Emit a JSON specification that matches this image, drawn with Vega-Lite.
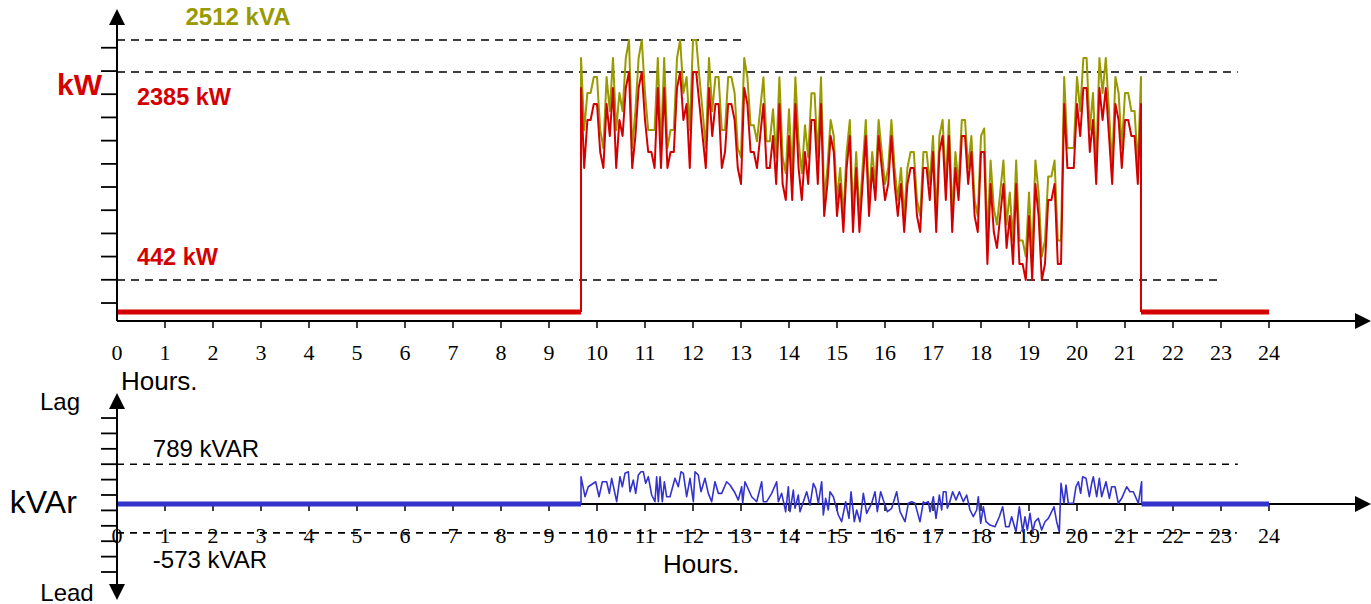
{
"$schema": "https://vega.github.io/schema/vega-lite/v6.json",
"padding": 0,
"background": "white",
"spacing": 67,
"bounds": "flush",
"config": {"view": {"stroke": null}, "font": "Liberation Sans", "axis": {"disable": true}},
"datasets": {
"hours": [{"h":0},{"h":1},{"h":2},{"h":3},{"h":4},{"h":5},{"h":6},{"h":7},{"h":8},{"h":9},{"h":10},{"h":11},{"h":12},{"h":13},{"h":14},{"h":15},{"h":16},{"h":17},{"h":18},{"h":19},{"h":20},{"h":21},{"h":22},{"h":23},{"h":24}],
"top": [
{"i":-1,"t":9.667,"kw":143,"kva":143},
{"i":0,"t":9.667,"kw":2236,"kva":2516},
{"i":1,"t":9.733,"kw":1488,"kva":1843},
{"i":2,"t":9.8,"kw":1937,"kva":2189},
{"i":3,"t":9.867,"kw":1937,"kva":2189},
{"i":4,"t":9.933,"kw":2086,"kva":2338},
{"i":5,"t":10,"kw":2086,"kva":2338},
{"i":6,"t":10.067,"kw":1638,"kva":1843},
{"i":7,"t":10.133,"kw":1488,"kva":1675},
{"i":8,"t":10.2,"kw":2086,"kva":2338},
{"i":9,"t":10.267,"kw":1787,"kva":2020},
{"i":10,"t":10.333,"kw":2236,"kva":2516},
{"i":11,"t":10.4,"kw":1488,"kva":1843},
{"i":12,"t":10.467,"kw":1937,"kva":2189},
{"i":13,"t":10.533,"kw":1787,"kva":2020},
{"i":14,"t":10.6,"kw":2236,"kva":2516},
{"i":15,"t":10.667,"kw":2385,"kva":2684},
{"i":16,"t":10.733,"kw":1488,"kva":1675},
{"i":17,"t":10.8,"kw":1787,"kva":2020},
{"i":18,"t":10.867,"kw":2236,"kva":2516},
{"i":19,"t":10.933,"kw":2385,"kva":2684},
{"i":20,"t":11,"kw":1937,"kva":2189},
{"i":21,"t":11.067,"kw":1638,"kva":1843},
{"i":22,"t":11.133,"kw":1638,"kva":1843},
{"i":23,"t":11.2,"kw":1488,"kva":1843},
{"i":24,"t":11.267,"kw":2236,"kva":2516},
{"i":25,"t":11.333,"kw":1488,"kva":1675},
{"i":26,"t":11.4,"kw":2236,"kva":2516},
{"i":27,"t":11.467,"kw":1488,"kva":1675},
{"i":28,"t":11.533,"kw":1638,"kva":1843},
{"i":29,"t":11.6,"kw":1638,"kva":1843},
{"i":30,"t":11.667,"kw":2236,"kva":2516},
{"i":31,"t":11.733,"kw":2385,"kva":2684},
{"i":32,"t":11.8,"kw":1937,"kva":2189},
{"i":33,"t":11.867,"kw":2086,"kva":2338},
{"i":34,"t":11.933,"kw":1488,"kva":1843},
{"i":35,"t":12,"kw":2385,"kva":2684},
{"i":36,"t":12.067,"kw":2385,"kva":2684},
{"i":37,"t":12.133,"kw":2086,"kva":2338},
{"i":38,"t":12.2,"kw":1787,"kva":2020},
{"i":39,"t":12.267,"kw":1488,"kva":1675},
{"i":40,"t":12.333,"kw":2236,"kva":2516},
{"i":41,"t":12.4,"kw":1787,"kva":2020},
{"i":42,"t":12.467,"kw":2086,"kva":2338},
{"i":43,"t":12.533,"kw":2086,"kva":2338},
{"i":44,"t":12.6,"kw":1488,"kva":1843},
{"i":45,"t":12.667,"kw":1638,"kva":1843},
{"i":46,"t":12.733,"kw":2086,"kva":2338},
{"i":47,"t":12.8,"kw":2086,"kva":2338},
{"i":48,"t":12.867,"kw":1937,"kva":2189},
{"i":49,"t":12.933,"kw":1488,"kva":1675},
{"i":50,"t":13,"kw":1339,"kva":1589},
{"i":51,"t":13.067,"kw":2236,"kva":2516},
{"i":52,"t":13.133,"kw":2086,"kva":2336},
{"i":53,"t":13.2,"kw":1638,"kva":1888},
{"i":54,"t":13.267,"kw":1638,"kva":1888},
{"i":55,"t":13.333,"kw":1488,"kva":1738},
{"i":56,"t":13.4,"kw":1787,"kva":2037},
{"i":57,"t":13.467,"kw":2086,"kva":2336},
{"i":58,"t":13.533,"kw":1488,"kva":1738},
{"i":59,"t":13.6,"kw":1488,"kva":1738},
{"i":60,"t":13.667,"kw":1787,"kva":2037},
{"i":61,"t":13.733,"kw":1339,"kva":1589},
{"i":62,"t":13.8,"kw":2086,"kva":2336},
{"i":63,"t":13.867,"kw":1339,"kva":1589},
{"i":64,"t":13.933,"kw":1189,"kva":1439},
{"i":65,"t":14,"kw":1787,"kva":2037},
{"i":66,"t":14.067,"kw":1189,"kva":1439},
{"i":67,"t":14.133,"kw":2086,"kva":2336},
{"i":68,"t":14.2,"kw":1488,"kva":1738},
{"i":69,"t":14.267,"kw":1189,"kva":1439},
{"i":70,"t":14.333,"kw":1638,"kva":1888},
{"i":71,"t":14.4,"kw":1339,"kva":1589},
{"i":72,"t":14.467,"kw":1937,"kva":2187},
{"i":73,"t":14.533,"kw":1937,"kva":2187},
{"i":74,"t":14.6,"kw":1339,"kva":1589},
{"i":75,"t":14.667,"kw":2086,"kva":2336},
{"i":76,"t":14.733,"kw":1040,"kva":1190},
{"i":77,"t":14.8,"kw":1339,"kva":1489},
{"i":78,"t":14.867,"kw":1787,"kva":1937},
{"i":79,"t":14.933,"kw":1638,"kva":1788},
{"i":80,"t":15,"kw":1040,"kva":1190},
{"i":81,"t":15.067,"kw":1339,"kva":1489},
{"i":82,"t":15.133,"kw":890,"kva":1040},
{"i":83,"t":15.2,"kw":1488,"kva":1638},
{"i":84,"t":15.267,"kw":1787,"kva":1937},
{"i":85,"t":15.333,"kw":890,"kva":1040},
{"i":86,"t":15.4,"kw":1488,"kva":1638},
{"i":87,"t":15.467,"kw":890,"kva":1040},
{"i":88,"t":15.533,"kw":1339,"kva":1489},
{"i":89,"t":15.6,"kw":1787,"kva":1937},
{"i":90,"t":15.667,"kw":1040,"kva":1190},
{"i":91,"t":15.733,"kw":1488,"kva":1638},
{"i":92,"t":15.8,"kw":1189,"kva":1339},
{"i":93,"t":15.867,"kw":1787,"kva":1937},
{"i":94,"t":15.933,"kw":1488,"kva":1638},
{"i":95,"t":16,"kw":1189,"kva":1339},
{"i":96,"t":16.067,"kw":1339,"kva":1489},
{"i":97,"t":16.133,"kw":1787,"kva":1937},
{"i":98,"t":16.2,"kw":1339,"kva":1489},
{"i":99,"t":16.267,"kw":1040,"kva":1190},
{"i":100,"t":16.333,"kw":1339,"kva":1489},
{"i":101,"t":16.4,"kw":890,"kva":1040},
{"i":102,"t":16.467,"kw":1339,"kva":1489},
{"i":103,"t":16.533,"kw":1488,"kva":1638},
{"i":104,"t":16.6,"kw":1488,"kva":1638},
{"i":105,"t":16.667,"kw":1040,"kva":1190},
{"i":106,"t":16.733,"kw":890,"kva":1040},
{"i":107,"t":16.8,"kw":1488,"kva":1638},
{"i":108,"t":16.867,"kw":1488,"kva":1638},
{"i":109,"t":16.933,"kw":1189,"kva":1339},
{"i":110,"t":17,"kw":1638,"kva":1788},
{"i":111,"t":17.067,"kw":890,"kva":1040},
{"i":112,"t":17.133,"kw":1638,"kva":1788},
{"i":113,"t":17.2,"kw":1787,"kva":1937},
{"i":114,"t":17.267,"kw":1189,"kva":1339},
{"i":115,"t":17.333,"kw":1787,"kva":1937},
{"i":116,"t":17.4,"kw":890,"kva":1040},
{"i":117,"t":17.467,"kw":1488,"kva":1638},
{"i":118,"t":17.533,"kw":1189,"kva":1339},
{"i":119,"t":17.6,"kw":1787,"kva":1937},
{"i":120,"t":17.667,"kw":1787,"kva":1937},
{"i":121,"t":17.733,"kw":1339,"kva":1489},
{"i":122,"t":17.8,"kw":1638,"kva":1788},
{"i":123,"t":17.867,"kw":1040,"kva":1190},
{"i":124,"t":17.933,"kw":890,"kva":1040},
{"i":125,"t":18,"kw":1638,"kva":1788},
{"i":126,"t":18.067,"kw":1638,"kva":1858},
{"i":127,"t":18.133,"kw":591,"kva":811},
{"i":128,"t":18.2,"kw":1339,"kva":1559},
{"i":129,"t":18.267,"kw":890,"kva":1110},
{"i":130,"t":18.333,"kw":741,"kva":961},
{"i":131,"t":18.4,"kw":1040,"kva":1260},
{"i":132,"t":18.467,"kw":1339,"kva":1559},
{"i":133,"t":18.533,"kw":741,"kva":961},
{"i":134,"t":18.6,"kw":1040,"kva":1260},
{"i":135,"t":18.667,"kw":591,"kva":811},
{"i":136,"t":18.733,"kw":1339,"kva":1559},
{"i":137,"t":18.8,"kw":591,"kva":811},
{"i":138,"t":18.867,"kw":591,"kva":811},
{"i":139,"t":18.933,"kw":442,"kva":662},
{"i":140,"t":19,"kw":1040,"kva":1260},
{"i":141,"t":19.067,"kw":442,"kva":662},
{"i":142,"t":19.133,"kw":1339,"kva":1559},
{"i":143,"t":19.2,"kw":1040,"kva":1260},
{"i":144,"t":19.267,"kw":442,"kva":662},
{"i":145,"t":19.333,"kw":591,"kva":811},
{"i":146,"t":19.4,"kw":1189,"kva":1409},
{"i":147,"t":19.467,"kw":1189,"kva":1409},
{"i":148,"t":19.533,"kw":1339,"kva":1559},
{"i":149,"t":19.6,"kw":591,"kva":811},
{"i":150,"t":19.667,"kw":591,"kva":811},
{"i":151,"t":19.733,"kw":2086,"kva":2338},
{"i":152,"t":19.8,"kw":1488,"kva":1675},
{"i":153,"t":19.867,"kw":1488,"kva":1675},
{"i":154,"t":19.933,"kw":1488,"kva":1675},
{"i":155,"t":20,"kw":2086,"kva":2338},
{"i":156,"t":20.067,"kw":1787,"kva":2020},
{"i":157,"t":20.133,"kw":2236,"kva":2516},
{"i":158,"t":20.2,"kw":2236,"kva":2516},
{"i":159,"t":20.267,"kw":1638,"kva":1843},
{"i":160,"t":20.333,"kw":1937,"kva":2189},
{"i":161,"t":20.4,"kw":1339,"kva":1500},
{"i":162,"t":20.467,"kw":2236,"kva":2516},
{"i":163,"t":20.533,"kw":1937,"kva":2189},
{"i":164,"t":20.6,"kw":2236,"kva":2516},
{"i":165,"t":20.667,"kw":1787,"kva":2020},
{"i":166,"t":20.733,"kw":1339,"kva":1500},
{"i":167,"t":20.8,"kw":2086,"kva":2338},
{"i":168,"t":20.867,"kw":1937,"kva":2189},
{"i":169,"t":20.933,"kw":1488,"kva":1675},
{"i":170,"t":21,"kw":1937,"kva":2189},
{"i":171,"t":21.067,"kw":1937,"kva":2189},
{"i":172,"t":21.133,"kw":1787,"kva":2020},
{"i":173,"t":21.2,"kw":1787,"kva":2020},
{"i":174,"t":21.267,"kw":1339,"kva":1500},
{"i":175,"t":21.333,"kw":2086,"kva":2338},
{"i":176,"t":21.333,"kw":143,"kva":143}
],
"kvar": [
{"i":0,"t":9.667,"kvar":0},
{"i":1,"t":9.667,"kvar":542},
{"i":2,"t":9.75,"kvar":145},
{"i":3,"t":9.819,"kvar":343},
{"i":4,"t":9.972,"kvar":442},
{"i":5,"t":10.042,"kvar":145},
{"i":6,"t":10.111,"kvar":442},
{"i":7,"t":10.201,"kvar":442},
{"i":8,"t":10.257,"kvar":212},
{"i":9,"t":10.306,"kvar":510},
{"i":10,"t":10.41,"kvar":46},
{"i":11,"t":10.479,"kvar":542},
{"i":12,"t":10.528,"kvar":343},
{"i":13,"t":10.583,"kvar":609},
{"i":14,"t":10.653,"kvar":641},
{"i":15,"t":10.688,"kvar":244},
{"i":16,"t":10.757,"kvar":476},
{"i":17,"t":10.806,"kvar":212},
{"i":18,"t":10.861,"kvar":575},
{"i":19,"t":10.917,"kvar":641},
{"i":20,"t":10.965,"kvar":641},
{"i":21,"t":11.014,"kvar":411},
{"i":22,"t":11.069,"kvar":542},
{"i":23,"t":11.139,"kvar":179},
{"i":24,"t":11.208,"kvar":46},
{"i":25,"t":11.243,"kvar":542},
{"i":26,"t":11.278,"kvar":46},
{"i":27,"t":11.313,"kvar":542},
{"i":28,"t":11.361,"kvar":46},
{"i":29,"t":11.403,"kvar":442},
{"i":30,"t":11.451,"kvar":145},
{"i":31,"t":11.521,"kvar":145},
{"i":32,"t":11.625,"kvar":510},
{"i":33,"t":11.694,"kvar":343},
{"i":34,"t":11.75,"kvar":641},
{"i":35,"t":11.799,"kvar":609},
{"i":36,"t":11.868,"kvar":145},
{"i":37,"t":11.938,"kvar":510},
{"i":38,"t":12.007,"kvar":46},
{"i":39,"t":12.042,"kvar":641},
{"i":40,"t":12.111,"kvar":575},
{"i":41,"t":12.167,"kvar":244},
{"i":42,"t":12.25,"kvar":510},
{"i":43,"t":12.319,"kvar":212},
{"i":44,"t":12.389,"kvar":46},
{"i":45,"t":12.458,"kvar":442},
{"i":46,"t":12.528,"kvar":212},
{"i":47,"t":12.597,"kvar":212},
{"i":48,"t":12.701,"kvar":442},
{"i":49,"t":12.771,"kvar":377},
{"i":50,"t":12.861,"kvar":244},
{"i":51,"t":12.944,"kvar":79},
{"i":52,"t":13.014,"kvar":343},
{"i":53,"t":13.035,"kvar":14},
{"i":54,"t":13.083,"kvar":442},
{"i":55,"t":13.222,"kvar":145},
{"i":56,"t":13.326,"kvar":46},
{"i":57,"t":13.431,"kvar":442},
{"i":58,"t":13.465,"kvar":46},
{"i":59,"t":13.535,"kvar":46},
{"i":60,"t":13.639,"kvar":212},
{"i":61,"t":13.743,"kvar":442},
{"i":62,"t":13.778,"kvar":46},
{"i":63,"t":13.847,"kvar":212},
{"i":64,"t":13.931,"kvar":-153},
{"i":65,"t":13.986,"kvar":343},
{"i":66,"t":14.021,"kvar":-153},
{"i":67,"t":14.09,"kvar":278},
{"i":68,"t":14.125,"kvar":-85},
{"i":69,"t":14.194,"kvar":179},
{"i":70,"t":14.229,"kvar":-153},
{"i":71,"t":14.299,"kvar":46},
{"i":72,"t":14.368,"kvar":244},
{"i":73,"t":14.438,"kvar":-20},
{"i":74,"t":14.507,"kvar":411},
{"i":75,"t":14.556,"kvar":311},
{"i":76,"t":14.611,"kvar":14},
{"i":77,"t":14.681,"kvar":442},
{"i":78,"t":14.715,"kvar":-218},
{"i":79,"t":14.764,"kvar":113},
{"i":80,"t":14.819,"kvar":-119},
{"i":81,"t":14.854,"kvar":244},
{"i":82,"t":14.924,"kvar":145},
{"i":83,"t":15.028,"kvar":-218},
{"i":84,"t":15.097,"kvar":-351},
{"i":85,"t":15.181,"kvar":46},
{"i":86,"t":15.25,"kvar":-284},
{"i":87,"t":15.292,"kvar":244},
{"i":88,"t":15.361,"kvar":-351},
{"i":89,"t":15.41,"kvar":-119},
{"i":90,"t":15.479,"kvar":-351},
{"i":91,"t":15.549,"kvar":212},
{"i":92,"t":15.618,"kvar":-185},
{"i":93,"t":15.722,"kvar":14},
{"i":94,"t":15.792,"kvar":244},
{"i":95,"t":15.84,"kvar":-153},
{"i":96,"t":15.91,"kvar":244},
{"i":97,"t":15.965,"kvar":79},
{"i":98,"t":16.049,"kvar":-153},
{"i":99,"t":16.139,"kvar":-85},
{"i":100,"t":16.243,"kvar":244},
{"i":101,"t":16.313,"kvar":-153},
{"i":102,"t":16.417,"kvar":-351},
{"i":103,"t":16.486,"kvar":14},
{"i":104,"t":16.556,"kvar":46},
{"i":105,"t":16.625,"kvar":14},
{"i":106,"t":16.729,"kvar":-351},
{"i":107,"t":16.799,"kvar":46},
{"i":108,"t":16.833,"kvar":14},
{"i":109,"t":16.903,"kvar":46},
{"i":110,"t":16.938,"kvar":-153},
{"i":111,"t":17.007,"kvar":145},
{"i":112,"t":17.063,"kvar":-284},
{"i":113,"t":17.132,"kvar":179},
{"i":114,"t":17.181,"kvar":-119},
{"i":115,"t":17.215,"kvar":244},
{"i":116,"t":17.271,"kvar":244},
{"i":117,"t":17.299,"kvar":-85},
{"i":118,"t":17.34,"kvar":14},
{"i":119,"t":17.41,"kvar":244},
{"i":120,"t":17.479,"kvar":79},
{"i":121,"t":17.549,"kvar":244},
{"i":122,"t":17.632,"kvar":46},
{"i":123,"t":17.701,"kvar":179},
{"i":124,"t":17.771,"kvar":-119},
{"i":125,"t":17.84,"kvar":-252},
{"i":126,"t":17.91,"kvar":-119},
{"i":127,"t":17.944,"kvar":145},
{"i":128,"t":17.993,"kvar":-383},
{"i":129,"t":18.049,"kvar":-54},
{"i":130,"t":18.104,"kvar":-351},
{"i":131,"t":18.188,"kvar":-417},
{"i":132,"t":18.292,"kvar":-450},
{"i":133,"t":18.382,"kvar":-252},
{"i":134,"t":18.451,"kvar":-54},
{"i":135,"t":18.514,"kvar":-450},
{"i":136,"t":18.583,"kvar":-450},
{"i":137,"t":18.639,"kvar":-252},
{"i":138,"t":18.729,"kvar":-550},
{"i":139,"t":18.799,"kvar":-54},
{"i":140,"t":18.868,"kvar":-550},
{"i":141,"t":18.917,"kvar":-252},
{"i":142,"t":18.965,"kvar":-516},
{"i":143,"t":19.021,"kvar":-185},
{"i":144,"t":19.076,"kvar":-550},
{"i":145,"t":19.125,"kvar":-351},
{"i":146,"t":19.194,"kvar":-284},
{"i":147,"t":19.264,"kvar":-516},
{"i":148,"t":19.333,"kvar":-351},
{"i":149,"t":19.403,"kvar":-284},
{"i":150,"t":19.472,"kvar":-153},
{"i":151,"t":19.521,"kvar":-54},
{"i":152,"t":19.576,"kvar":-351},
{"i":153,"t":19.632,"kvar":-550},
{"i":154,"t":19.667,"kvar":411},
{"i":155,"t":19.729,"kvar":14},
{"i":156,"t":19.771,"kvar":377},
{"i":157,"t":19.819,"kvar":14},
{"i":158,"t":19.924,"kvar":14},
{"i":159,"t":19.979,"kvar":343},
{"i":160,"t":20.028,"kvar":442},
{"i":161,"t":20.076,"kvar":212},
{"i":162,"t":20.118,"kvar":542},
{"i":163,"t":20.188,"kvar":510},
{"i":164,"t":20.257,"kvar":145},
{"i":165,"t":20.306,"kvar":411},
{"i":166,"t":20.34,"kvar":542},
{"i":167,"t":20.41,"kvar":145},
{"i":168,"t":20.465,"kvar":510},
{"i":169,"t":20.514,"kvar":145},
{"i":170,"t":20.604,"kvar":442},
{"i":171,"t":20.674,"kvar":113},
{"i":172,"t":20.722,"kvar":343},
{"i":173,"t":20.792,"kvar":343},
{"i":174,"t":20.861,"kvar":14},
{"i":175,"t":20.931,"kvar":113},
{"i":176,"t":21.035,"kvar":343},
{"i":177,"t":21.104,"kvar":244},
{"i":178,"t":21.174,"kvar":244},
{"i":179,"t":21.278,"kvar":14},
{"i":180,"t":21.347,"kvar":442},
{"i":181,"t":21.347,"kvar":0}
]
},
"vconcat": [
{
"width": 1371,
"height": 321,
"layer": [
{
"data": {"values": [
{"label": "2512 kVA", "v": 2684, "t0": 0, "t1": 13.02},
{"label": "2385 kW", "v": 2385, "t0": 0, "t1": 23.35},
{"label": "442 kW", "v": 442, "t0": 0, "t1": 23.02}
]},
"mark": {"type": "rule", "strokeDash": [8, 6], "strokeWidth": 1.6, "color": "black"},
"encoding": {
"x": {"field": "t0", "type": "quantitative", "scale": {"domain": [-2.4375, 26.125], "nice": false, "zero": false}, "axis": null},
"x2": {"field": "t1"},
"y": {"field": "v", "type": "quantitative", "scale": {"domain": [59, 3058], "nice": false, "zero": false}, "axis": null}
}
},
{
"data": {"name": "hours"},
"transform": [{"filter": "datum.h > 0"}],
"mark": {"type": "rule", "strokeWidth": 1.5, "color": "black"},
"encoding": {
"x": {"field": "h", "type": "quantitative", "axis": null},
"y": {"datum": 59, "type": "quantitative", "axis": null},
"y2": {"datum": -6}
}
},
{
"data": {"name": "hours"},
"mark": {"type": "text", "font": "Liberation Serif", "fontSize": 22, "color": "black", "align": "center", "baseline": "middle"},
"encoding": {
"x": {"field": "h", "type": "quantitative", "axis": null},
"y": {"datum": -243, "type": "quantitative", "axis": null},
"text": {"field": "h", "type": "quantitative", "format": "d"}
}
},
{
"data": {"values": [{"v": 227}, {"v": 444}, {"v": 661}, {"v": 877}, {"v": 1094}, {"v": 1311}, {"v": 1527}, {"v": 1744}, {"v": 1961}, {"v": 2178}, {"v": 2394}, {"v": 2612}]},
"mark": {"type": "rule", "strokeWidth": 1.8, "color": "black"},
"encoding": {
"x": {"datum": -0.333, "type": "quantitative", "axis": null},
"x2": {"datum": 0},
"y": {"field": "v", "type": "quantitative", "axis": null}
}
},
{
"data": {"values": [{"label": "Hours.", "t": 0.083, "v": -585}]},
"mark": {"type": "text", "font": "Liberation Sans", "fontSize": 26, "color": "black", "align": "left", "baseline": "alphabetic"},
"encoding": {"x": {"field": "t", "type": "quantitative", "axis": null}, "y": {"field": "v", "type": "quantitative", "axis": null}, "text": {"field": "label"}}
},
{
"data": {"values": [
{"seg": "a", "t": 0, "kw": 143}, {"seg": "a", "t": 9.667, "kw": 143},
{"seg": "b", "t": 21.333, "kw": 143}, {"seg": "b", "t": 24, "kw": 143}
]},
"mark": {"type": "line", "strokeWidth": 5, "color": "#d40000", "strokeCap": "butt"},
"encoding": {
"x": {"field": "t", "type": "quantitative", "axis": null},
"y": {"field": "kw", "type": "quantitative", "axis": null},
"detail": {"field": "seg"}
}
},
{
"data": {"name": "top"},
"mark": {"type": "line", "strokeWidth": 2, "color": "#999900", "strokeJoin": "round"},
"encoding": {
"x": {"field": "t", "type": "quantitative", "axis": null},
"y": {"field": "kva", "type": "quantitative", "axis": null},
"order": {"field": "i", "type": "quantitative"}
}
},
{
"data": {"name": "top"},
"mark": {"type": "line", "strokeWidth": 2, "color": "#d40000", "strokeJoin": "round"},
"encoding": {
"x": {"field": "t", "type": "quantitative", "axis": null},
"y": {"field": "kw", "type": "quantitative", "axis": null},
"order": {"field": "i", "type": "quantitative"}
}
},
{
"data": {"values": [{}]},
"mark": {"type": "rule", "strokeWidth": 2, "color": "black"},
"encoding": {"x": {"datum": 0, "type": "quantitative", "axis": null}, "y": {"datum": 59, "type": "quantitative", "axis": null}, "y2": {"datum": 2833}}
},
{
"data": {"values": [{}]},
"mark": {"type": "rule", "strokeWidth": 2, "color": "black"},
"encoding": {"x": {"datum": 0, "type": "quantitative", "axis": null}, "x2": {"datum": 25.9}, "y": {"datum": 59, "type": "quantitative", "axis": null}}
},
{
"data": {"values": [{}]},
"mark": {"type": "point", "shape": "M0,-1L1,1L-1,1Z", "size": 256, "filled": true, "color": "black", "opacity": 1},
"encoding": {"x": {"datum": 0, "type": "quantitative", "axis": null}, "y": {"datum": 2899, "type": "quantitative", "axis": null}}
},
{
"data": {"values": [{}]},
"mark": {"type": "point", "shape": "M1,0L-1,-1L-1,1Z", "size": 256, "filled": true, "color": "black", "opacity": 1},
"encoding": {"x": {"datum": 25.958, "type": "quantitative", "axis": null}, "y": {"datum": 59, "type": "quantitative", "axis": null}}
},
{
"data": {"values": [{"label": "2512 kVA", "t": 2.521, "v": 2892}]},
"mark": {"type": "text", "font": "Liberation Sans", "fontSize": 24, "fontWeight": "bold", "color": "#999900", "align": "center", "baseline": "middle"},
"encoding": {"x": {"field": "t", "type": "quantitative", "axis": null}, "y": {"field": "v", "type": "quantitative", "axis": null}, "text": {"field": "label"}}
},
{
"data": {"values": [{"label": "2385 kW", "t": 1.396, "v": 2139}, {"label": "442 kW", "t": 1.26, "v": 645}]},
"mark": {"type": "text", "font": "Liberation Sans", "fontSize": 23.5, "fontWeight": "bold", "color": "#d40000", "align": "center", "baseline": "middle"},
"encoding": {"x": {"field": "t", "type": "quantitative", "axis": null}, "y": {"field": "v", "type": "quantitative", "axis": null}, "text": {"field": "label"}}
},
{
"data": {"values": [{"label": "kW", "t": -0.781, "v": 2252}]},
"mark": {"type": "text", "font": "Liberation Sans", "fontSize": 30, "fontWeight": "bold", "color": "#d40000", "align": "center", "baseline": "middle"},
"encoding": {"x": {"field": "t", "type": "quantitative", "axis": null}, "y": {"field": "v", "type": "quantitative", "axis": null}, "text": {"field": "label"}}
}
]
},
{
"width": 1371,
"height": 216,
"layer": [
{
"data": {"values": [
{"label": "789 kVAR", "v": 789, "t0": 0, "t1": 23.35},
{"label": "-573 kVAR", "v": -573, "t0": 0, "t1": 23.33}
]},
"mark": {"type": "rule", "strokeDash": [7, 6], "strokeWidth": 1.6, "color": "black"},
"encoding": {
"x": {"field": "t0", "type": "quantitative", "scale": {"domain": [-2.4375, 26.125], "nice": false, "zero": false}, "axis": null},
"x2": {"field": "t1"},
"y": {"field": "v", "type": "quantitative", "scale": {"domain": [-1984, 2302], "nice": false, "zero": false}, "axis": null}
}
},
{
"data": {"name": "hours"},
"transform": [{"filter": "datum.h > 0"}],
"mark": {"type": "rule", "strokeWidth": 1.5, "color": "black"},
"encoding": {
"x": {"field": "h", "type": "quantitative", "axis": null},
"y": {"datum": 0, "type": "quantitative", "axis": null},
"y2": {"datum": -139}
}
},
{
"data": {"name": "hours"},
"mark": {"type": "text", "font": "Liberation Serif", "fontSize": 22, "color": "black", "align": "center", "baseline": "middle"},
"encoding": {
"x": {"field": "h", "type": "quantitative", "axis": null},
"y": {"datum": -625, "type": "quantitative", "axis": null},
"text": {"field": "h", "type": "quantitative", "format": "d"}
}
},
{
"data": {"values": [{"v": 1706}, {"v": 1401}, {"v": 1095}, {"v": 790}, {"v": 484}, {"v": 179}, {"v": -127}, {"v": -433}, {"v": -738}, {"v": -1044}, {"v": -1349}]},
"mark": {"type": "rule", "strokeWidth": 1.8, "color": "black"},
"encoding": {
"x": {"datum": -0.333, "type": "quantitative", "axis": null},
"x2": {"datum": 0},
"y": {"field": "v", "type": "quantitative", "axis": null}
}
},
{
"data": {"values": [{"label": "Hours.", "t": 11.375, "v": -1369}]},
"mark": {"type": "text", "font": "Liberation Sans", "fontSize": 26, "color": "black", "align": "left", "baseline": "alphabetic"},
"encoding": {"x": {"field": "t", "type": "quantitative", "axis": null}, "y": {"field": "v", "type": "quantitative", "axis": null}, "text": {"field": "label"}}
},
{
"data": {"values": [{}]},
"mark": {"type": "rule", "strokeWidth": 2, "color": "black"},
"encoding": {"x": {"datum": 0, "type": "quantitative", "axis": null}, "x2": {"datum": 25.9}, "y": {"datum": 0, "type": "quantitative", "axis": null}}
},
{
"data": {"values": [
{"seg": "a", "t": 0, "kvar": 0}, {"seg": "a", "t": 9.667, "kvar": 0},
{"seg": "b", "t": 21.347, "kvar": 0}, {"seg": "b", "t": 24, "kvar": 0}
]},
"mark": {"type": "line", "strokeWidth": 5, "color": "#3333cc", "strokeCap": "butt"},
"encoding": {
"x": {"field": "t", "type": "quantitative", "axis": null},
"y": {"field": "kvar", "type": "quantitative", "axis": null},
"detail": {"field": "seg"}
}
},
{
"data": {"name": "kvar"},
"mark": {"type": "line", "strokeWidth": 1.6, "color": "#3333cc", "strokeJoin": "round"},
"encoding": {
"x": {"field": "t", "type": "quantitative", "axis": null},
"y": {"field": "kvar", "type": "quantitative", "axis": null},
"order": {"field": "i", "type": "quantitative"}
}
},
{
"data": {"values": [{}]},
"mark": {"type": "rule", "strokeWidth": 2, "color": "black"},
"encoding": {"x": {"datum": 0, "type": "quantitative", "axis": null}, "y": {"datum": 1885, "type": "quantitative", "axis": null}, "y2": {"datum": -1607}}
},
{
"data": {"values": [{}]},
"mark": {"type": "point", "shape": "M0,-1L1,1L-1,1Z", "size": 256, "filled": true, "color": "black", "opacity": 1},
"encoding": {"x": {"datum": 0, "type": "quantitative", "axis": null}, "y": {"datum": 2044, "type": "quantitative", "axis": null}}
},
{
"data": {"values": [{}]},
"mark": {"type": "point", "shape": "M0,1L1,-1L-1,-1Z", "size": 256, "filled": true, "color": "black", "opacity": 1},
"encoding": {"x": {"datum": 0, "type": "quantitative", "axis": null}, "y": {"datum": -1746, "type": "quantitative", "axis": null}}
},
{
"data": {"values": [{}]},
"mark": {"type": "point", "shape": "M1,0L-1,-1L-1,1Z", "size": 256, "filled": true, "color": "black", "opacity": 1},
"encoding": {"x": {"datum": 25.958, "type": "quantitative", "axis": null}, "y": {"datum": 0, "type": "quantitative", "axis": null}}
},
{
"data": {"values": [
{"label": "789 kVAR", "t": 1.854, "v": 1071},
{"label": "-573 kVAR", "t": 1.9375, "v": -1137},
{"label": "Lag", "t": -1.1875, "v": 2004},
{"label": "Lead", "t": -1.042, "v": -1786}
]},
"mark": {"type": "text", "font": "Liberation Sans", "fontSize": 24, "color": "black", "align": "center", "baseline": "middle"},
"encoding": {"x": {"field": "t", "type": "quantitative", "axis": null}, "y": {"field": "v", "type": "quantitative", "axis": null}, "text": {"field": "label"}}
},
{
"data": {"values": [{"label": "kVAr", "t": -1.535, "v": 14}]},
"mark": {"type": "text", "font": "Liberation Sans", "fontSize": 32, "color": "black", "align": "center", "baseline": "middle"},
"encoding": {"x": {"field": "t", "type": "quantitative", "axis": null}, "y": {"field": "v", "type": "quantitative", "axis": null}, "text": {"field": "label"}}
}
]
}
]
}
